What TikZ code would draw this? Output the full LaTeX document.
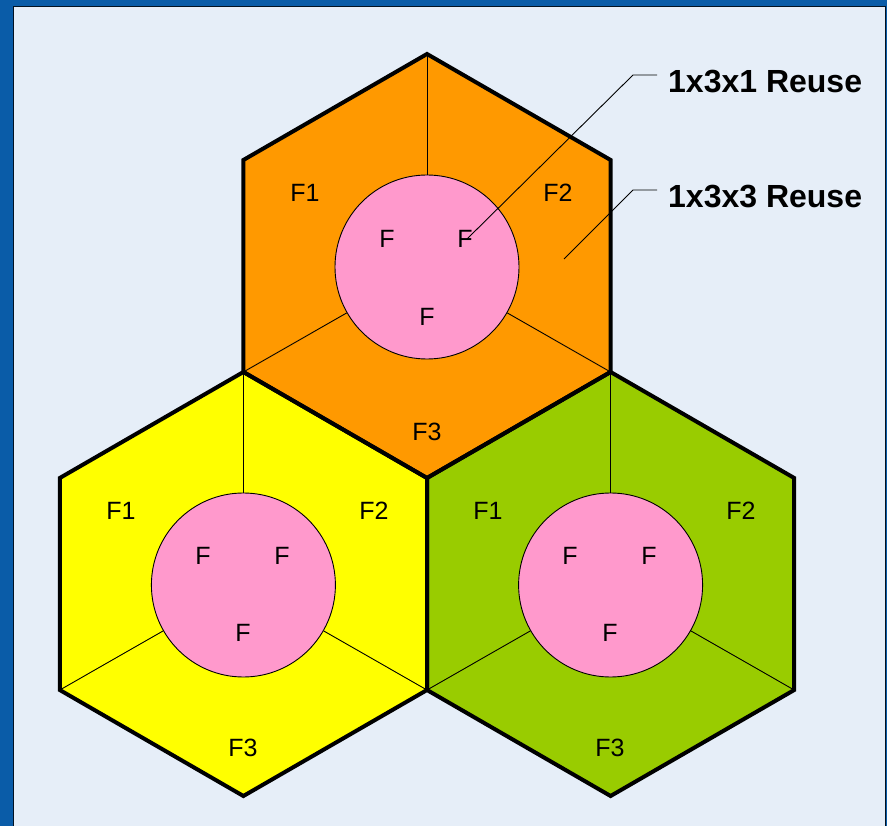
\documentclass[tikz,border=0pt]{standalone}
\usepackage{fontspec}
\setmainfont{Liberation Sans}
\definecolor{frameblue}{RGB}{10,92,168}
\definecolor{bgcol}{RGB}{230,238,248}
\definecolor{hexorange}{RGB}{255,153,0}
\definecolor{hexyellow}{RGB}{255,255,0}
\definecolor{hexgreen}{RGB}{153,204,0}
\definecolor{cellpink}{RGB}{255,153,204}
\tikzset{
  hexfill/.style={draw=none},
  hexedge/.style={draw=black, line width=4pt, line join=miter},
  spoke/.style={draw=black, line width=0.9pt},
  cellcircle/.style={circle, draw=black, line width=0.9pt, fill=cellpink, minimum size=184pt, inner sep=0pt},
  flabel/.style={font=\fontsize{25}{28}\selectfont, inner sep=0pt, text=black},
  reuselabel/.style={font=\fontsize{32}{36}\selectfont\bfseries, inner sep=0pt, anchor=base west},
  leader/.style={draw=black, line width=0.9pt},
}
\begin{document}
\begin{tikzpicture}[x=1pt,y=-1pt]
\useasboundingbox (0,0) rectangle (887,826);
\fill[frameblue] (0,0) rectangle (887,826);
\fill[bgcol] (14,7) rectangle (885,826);
\draw[black!80!frameblue, line width=1pt] (13.5,826) -- (13.5,6.5) -- (885.5,6.5) -- (885.5,826);

% hexagon vertices: R = 212, half-width 183.6
\def\hw{183.6}
% top hexagon, centre (427,266)
\foreach \nm/\cx/\cy in {T/427/266, L/243.4/584, G/610.6/584}{
  \coordinate (\nm c) at (\cx,\cy);
  \coordinate (\nm t) at (\cx,\cy-212);
  \coordinate (\nm ur) at (\cx+\hw,\cy-106);
  \coordinate (\nm lr) at (\cx+\hw,\cy+106);
  \coordinate (\nm b) at (\cx,\cy+212);
  \coordinate (\nm ll) at (\cx-\hw,\cy+106);
  \coordinate (\nm ul) at (\cx-\hw,\cy-106);
}
\fill[hexorange] (Tt) -- (Tur) -- (Tlr) -- (Tb) -- (Tll) -- (Tul) -- cycle;
\fill[hexyellow] (Lt) -- (Lur) -- (Llr) -- (Lb) -- (Lll) -- (Lul) -- cycle;
\fill[hexgreen] (Gt) -- (Gur) -- (Glr) -- (Gb) -- (Gll) -- (Gul) -- cycle;

% circles
\node[cellcircle] (Tcirc) at (427,267) {};
\node[cellcircle] (Lcirc) at (243.4,585) {};
\node[cellcircle] (Gcirc) at (610.6,585) {};

% spokes
\foreach \nm in {T,L,G}{
  \draw[spoke] (\nm t) -- (\nm circ);
  \draw[spoke] (\nm ll) -- (\nm circ);
  \draw[spoke] (\nm lr) -- (\nm circ);
}

% thick outlines
\draw[hexedge] (Tt) -- (Tur) -- (Tlr) -- (Tb) -- (Tll) -- (Tul) -- cycle;
\draw[hexedge] (Lt) -- (Lur) -- (Llr) -- (Lb) -- (Lll) -- (Lul) -- cycle;
\draw[hexedge] (Gt) -- (Gur) -- (Glr) -- (Gb) -- (Gll) -- (Gul) -- cycle;

% sector labels
\node[flabel] (T1) at (305,193) {F1};
\node[flabel] (T2) at (558,193) {F2};
\node[flabel] (T3) at (427,432) {F3};
\node[flabel] (Ta) at (387,239) {F};
\node[flabel] (Tb2) at (465,239) {F};
\node[flabel] (Tc) at (427,317) {F};

\node[flabel] (L1) at (121,511) {F1};
\node[flabel] (L2) at (374,511) {F2};
\node[flabel] (L3) at (243,748) {F3};
\node[flabel] (La) at (203,556) {F};
\node[flabel] (Lb2) at (282,556) {F};
\node[flabel] (Lc) at (243,633) {F};

\node[flabel] (G1) at (488,511) {F1};
\node[flabel] (G2) at (741,511) {F2};
\node[flabel] (G3) at (610,748) {F3};
\node[flabel] (Ga) at (570,556) {F};
\node[flabel] (Gb2) at (649,556) {F};
\node[flabel] (Gc) at (610,633) {F};

% reuse labels and leaders
\node[reuselabel] (R1) at (668,93) {1x3x1 Reuse};
\node[reuselabel] (R3) at (668,208) {1x3x3 Reuse};
\coordinate (tip1) at (467,239);
\coordinate (knee1) at (633,75);
\coordinate (end1) at (657,75);
\coordinate (tip3) at (564,259);
\coordinate (knee3) at (633,190);
\coordinate (end3) at (657,190);
\draw[leader] (tip1) -- (knee1) -- (end1);
\draw[leader] (tip3) -- (knee3) -- (end3);
\end{tikzpicture}
\end{document}
